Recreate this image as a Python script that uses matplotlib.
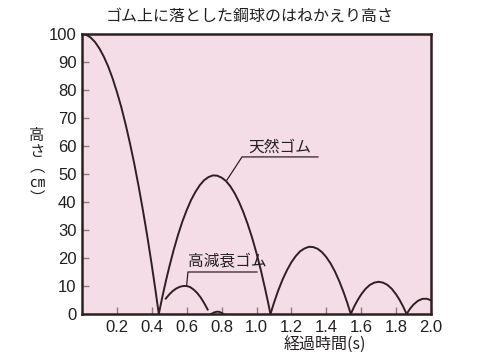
import matplotlib
matplotlib.use("Agg")
import matplotlib.pyplot as plt

plt.rcParams['font.family'] = ['Noto Sans CJK JP', 'DejaVu Sans']

# 天然ゴム (natural rubber), one list per bounce
nat_t = [
    [0.0, 0.025, 0.05, 0.075, 0.10, 0.125, 0.15, 0.175, 0.20, 0.225, 0.25,
     0.275, 0.30, 0.325, 0.35, 0.375, 0.40, 0.42, 0.44],
    [0.44, 0.46, 0.48, 0.50, 0.525, 0.55, 0.575, 0.60, 0.625, 0.65, 0.675,
     0.70, 0.725, 0.75, 0.775, 0.80, 0.825, 0.85, 0.875, 0.90, 0.925, 0.95,
     0.975, 1.00, 1.025, 1.05, 1.065, 1.08],
    [1.08, 1.10, 1.125, 1.15, 1.175, 1.20, 1.225, 1.25, 1.275, 1.30, 1.325,
     1.35, 1.375, 1.40, 1.425, 1.45, 1.475, 1.50, 1.52, 1.54],
    [1.54, 1.56, 1.58, 1.60, 1.625, 1.65, 1.675, 1.70, 1.725, 1.75, 1.775,
     1.80, 1.82, 1.84, 1.86],
    [1.86, 1.88, 1.90, 1.925, 1.95, 1.975, 2.00],
]
nat_h = [
    [100, 99.7, 98.7, 97.1, 94.8, 91.9, 88.4, 84.2, 79.3, 73.9, 67.7,
     60.9, 53.5, 45.4, 36.7, 27.4, 17.4, 8.9, 0],
    [0, 6.0, 11.6, 16.8, 22.8, 28.2, 33.0, 37.1, 40.7, 43.6, 46.0,
     47.8, 48.9, 49.5, 49.4, 48.7, 47.5, 45.6, 43.1, 40.0, 36.3, 32.0,
     27.2, 21.7, 15.6, 8.8, 4.5, 0],
    [0, 4.0, 8.5, 12.4, 15.7, 18.5, 20.7, 22.4, 23.4, 24.0, 23.9,
     23.3, 22.1, 20.3, 18.0, 15.1, 11.6, 7.6, 4.0, 0],
    [0, 2.7, 5.0, 7.0, 9.0, 10.4, 11.2, 11.5, 11.2, 10.4, 9.0,
     7.0, 5.0, 2.7, 0],
    [0, 1.9, 3.4, 4.7, 5.4, 5.45, 4.9],
]

# 高減衰ゴム (high damping rubber)
hd_t = [
    [0.48, 0.50, 0.52, 0.54, 0.56, 0.58, 0.60, 0.62, 0.64, 0.66, 0.68, 0.70, 0.72],
    [0.74, 0.755, 0.77, 0.785, 0.80, 0.81],
]
hd_h = [
    [5.5, 7.0, 8.2, 9.1, 9.7, 10.0, 10.0, 9.6, 8.7, 7.5, 5.9, 3.9, 1.6],
    [0, 0.5, 0.8, 0.8, 0.4, 0],
]

xticks = [0.2, 0.4, 0.6, 0.8, 1.0, 1.2, 1.4, 1.6, 1.8, 2.0]
yticks = [0, 10, 20, 30, 40, 50, 60, 70, 80, 90, 100]

line_c = '#2e2021'
txt_c = '#231f20'
bg = '#f5dde8'

fig = plt.figure(figsize=(4.81, 3.62), dpi=100)
ax = fig.add_axes([0.1705, 0.1326, 0.7256, 0.7735])
ax.set_facecolor(bg)

for t, h in zip(nat_t, nat_h):
    ax.plot(t, h, color=line_c, lw=1.4, solid_joinstyle='round')
for t, h in zip(hd_t, hd_h):
    ax.plot(t, h, color=line_c, lw=1.4, solid_joinstyle='round')

ax.set_xlim(0, 2.0)
ax.set_ylim(0, 100)
ax.set_xticks(xticks)
ax.set_xticklabels(['%.1f' % v for v in xticks])
ax.set_yticks(yticks)
ax.set_yticklabels([str(v) for v in yticks])
ax.tick_params(direction='in', length=5, width=1, color='#8a7a7c', pad=4)
for lab in ax.get_xticklabels() + ax.get_yticklabels():
    lab.set_family('Liberation Sans')
    lab.set_fontsize(12)
    lab.set_color(txt_c)
for s in ax.spines.values():
    s.set_color(line_c)
    s.set_linewidth(1.8)

# labels with leader lines
ax.text(0.955, 59.6, '天然ゴム', fontsize=11.3, color=txt_c, va='center')
ax.plot([1.352, 0.917, 0.831], [56.1, 56.1, 47.9], color=line_c, lw=0.9)
ax.text(0.605, 18.6, '高減衰ゴム', fontsize=11.3, color=txt_c, va='center')
ax.plot([1.003, 0.607, 0.60], [15.0, 15.0, 10.4], color=line_c, lw=0.9)

fig.text(0.52, 0.955, 'ゴム上に落とした鋼球のはねかえり高さ', fontsize=11.5,
         ha='center', va='center', color=txt_c)
fig.text(0.675, 0.047, '経過時間(s)', fontsize=11.5, ha='center', va='center',
         color=txt_c)

# vertical y label (stacked characters)
fig.text(37 / 481, 1 - 167 / 362, '高\nさ\n︵\n㎝\n︶', fontsize=11,
         ha='center', va='center', ma='center', color=txt_c, linespacing=0.9)

fig.savefig('out.png', dpi=100, facecolor='white')
